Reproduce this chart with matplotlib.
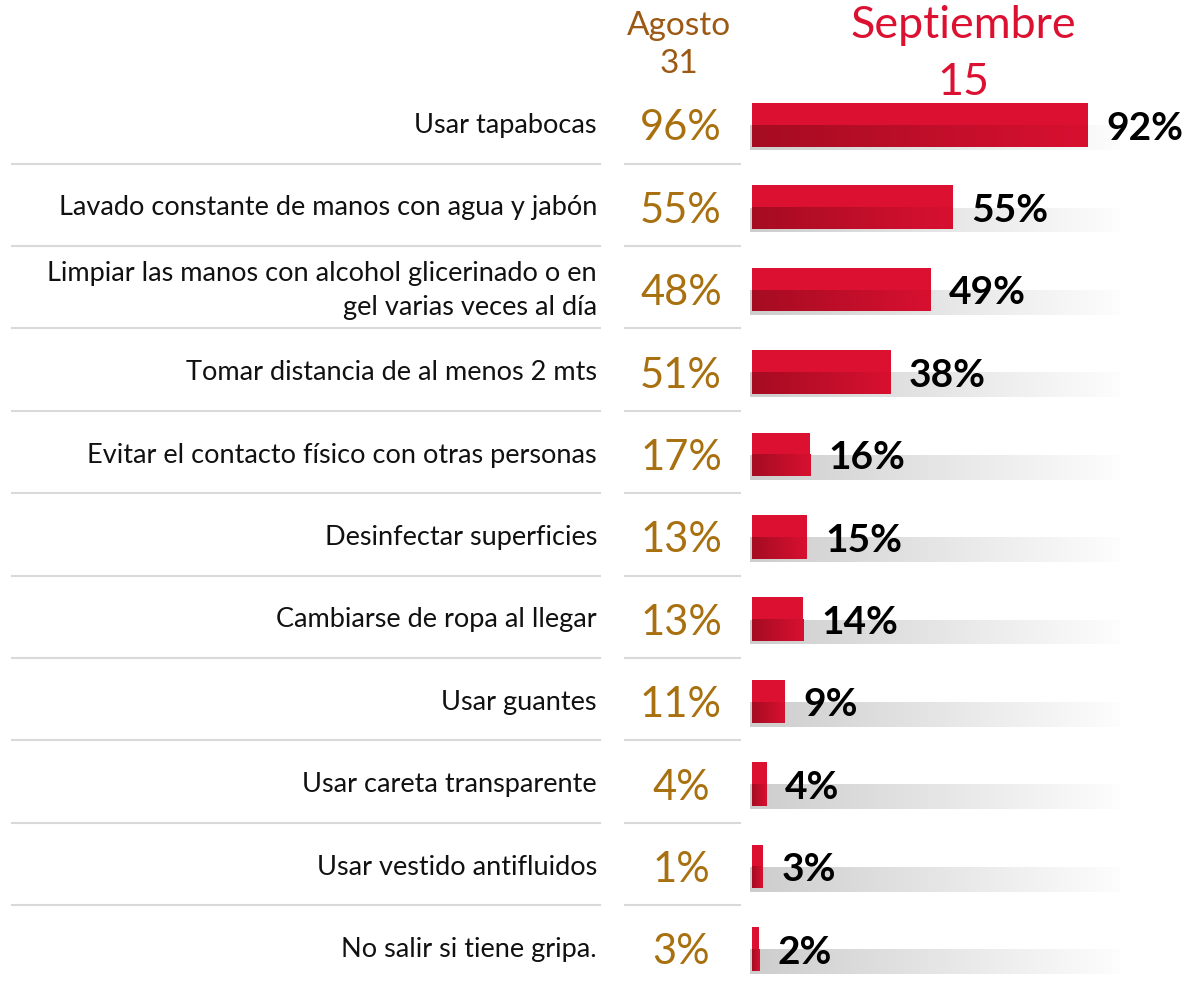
import numpy as np
import matplotlib.pyplot as plt
from matplotlib.colors import to_rgb
from matplotlib.transforms import blended_transform_factory

categories = [
    "Usar tapabocas",
    "Lavado constante de manos con agua y jabón",
    "Limpiar las manos con alcohol glicerinado o en\ngel varias veces al día",
    "Tomar distancia de al menos 2 mts",
    "Evitar el contacto físico con otras personas",
    "Desinfectar superficies",
    "Cambiarse de ropa al llegar",
    "Usar guantes",
    "Usar careta transparente",
    "Usar vestido antifluidos",
    "No salir si tiene gripa.",
]
agosto = [96, 55, 48, 51, 17, 13, 13, 11, 4, 1, 3]
septiembre = [92, 55, 49, 38, 16, 15, 14, 9, 4, 3, 2]

RED = "#DC1030"
RED_DARK = "#A50C22"
GOLD = "#A8700F"
BROWN = "#9B5914"

plt.rcParams['font.family'] = ['Lato', 'DejaVu Sans']

W, H = 1187, 988
fig = plt.figure(figsize=(W / 100, H / 100), dpi=100)
top_px = 81.1
ax = fig.add_axes([752 / W, 0.0005, 365 / W, 1 - top_px / H - 0.0005])
rows = np.arange(len(categories))


def gradient_fill(patch, c_left, c_right):
    # horizontal colour ramp clipped to the bar shape
    x, y = patch.get_x(), patch.get_y()
    w, h = patch.get_width(), patch.get_height()
    t = np.linspace(0, 1, 256)
    cl, cr = np.array(to_rgb(c_left)), np.array(to_rgb(c_right))
    img = (cl[None, :] * (1 - t[:, None]) + cr[None, :] * t[:, None])[None, :, :]
    im = ax.imshow(img, extent=(x, x + w, y + h, y), aspect='auto',
                   interpolation='bilinear', zorder=patch.get_zorder() + 0.1)
    im.set_clip_path(patch)


# gray shadow bands
bands = ax.barh(rows + 0.035, [101.3] * len(rows), left=-0.5, height=0.30,
                align='edge', color='none', zorder=1)
for b in bands:
    gradient_fill(b, '#cdcdcd', '#fdfdfd')

# red bars
bars = ax.barh(rows + 0.03, septiembre, height=0.53, color=RED, zorder=3)
lower = ax.barh(rows + 0.03, septiembre, height=0.265, align='edge',
                color='none', zorder=3)
for b in lower:
    gradient_fill(b, RED_DARK, '#d81030')

for i, v in enumerate(septiembre):
    ax.text(v + 5, i + 0.21, f"{v}%", ha='left', va='baseline',
            fontsize=28, fontweight='bold', color='black', zorder=5)

ax.set_xlim(0, 100)
ax.set_ylim(10.5, -0.5)
ax.axis('off')

tr = blended_transform_factory(fig.transFigure, ax.transData)
for i, lab in enumerate(categories):
    lines = lab.split("\n")
    n = len(lines)
    for k, line in enumerate(lines):
        ax.text(597 / W, i + 0.13 + (k - (n - 1) / 2) * 0.41, line,
                transform=tr, ha='right', va='baseline', fontsize=19.5,
                color='#111111')
    ax.text(681 / W, i + 0.22, f"{agosto[i]}%", transform=tr, ha='center',
            va='baseline', fontsize=30, color=GOLD)

for i in range(len(categories) - 1):
    ax.plot([12 / W, 600 / W], [i + 0.5, i + 0.5], transform=tr,
            color='#d9d9d9', lw=1.5, clip_on=False)
    ax.plot([625 / W, 740 / W], [i + 0.5, i + 0.5], transform=tr,
            color='#d9d9d9', lw=1.5, clip_on=False)

fig.text(679 / W, 1 - 35 / H, "Agosto", ha='center', va='baseline',
         fontsize=24, color=BROWN)
fig.text(679 / W, 1 - 73 / H, "31", ha='center', va='baseline',
         fontsize=24, color=BROWN)
fig.text(963 / W, 1 - 38 / H, "Septiembre", ha='center', va='baseline',
         fontsize=32.3, color=RED)
fig.text(963 / W, 1 - 95 / H, "15", ha='center', va='baseline',
         fontsize=32.3, color=RED)

fig.savefig("out.png", dpi=100)
